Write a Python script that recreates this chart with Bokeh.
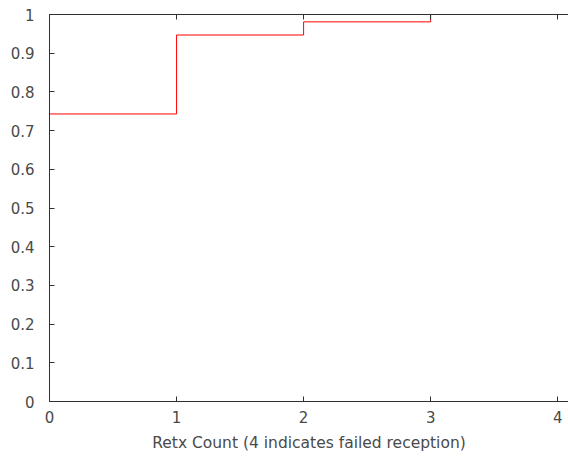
from bokeh.plotting import figure
from bokeh.models import Range1d, FixedTicker, LinearAxis
from bokeh.embed import file_html
from bokeh.resources import INLINE

# CDF of retransmission counts
retx_count = [0, 1, 2, 3]
cdf_value = [0.743, 0.947, 0.981, 1.0]

x_ticks = [0, 1, 2, 3, 4]
y_ticks = [0, 0.1, 0.2, 0.3, 0.4, 0.5, 0.6, 0.7, 0.8, 0.9, 1]
y_tick_labels = ["0", "0.1", "0.2", "0.3", "0.4", "0.5", "0.6", "0.7", "0.8", "0.9", "1"]
x_label = "Retx Count (4 indicates failed reception)"

FONT = "DejaVu Sans"
TEXT_COLOR = "#4a4a4a"
AXIS_COLOR = "#303030"

p = figure(width=568, height=462, output_backend="svg", toolbar_location=None,
           x_range=Range1d(0, 4.085), y_range=Range1d(0, 1),
           min_border_left=49, min_border_right=0, min_border_top=14,
           min_border_bottom=61, x_axis_location="below")
p.background_fill_color = "white"
p.border_fill_color = "white"
p.outline_line_color = None
p.xgrid.visible = False
p.ygrid.visible = False

p.step(retx_count, cdf_value, mode="after", line_color="#ff0000", line_width=1)


def style_axis(ax, show_labels=True):
    ax.axis_line_color = AXIS_COLOR
    ax.axis_line_width = 1
    ax.major_tick_line_color = AXIS_COLOR
    ax.major_tick_in = 5
    ax.major_tick_out = 0
    ax.minor_tick_line_color = None
    ax.major_label_text_font = FONT
    ax.major_label_text_font_size = "15px"
    ax.major_label_text_color = TEXT_COLOR
    if not show_labels:
        ax.major_label_text_font_size = "0px"
        ax.major_label_text_color = None


xa = p.xaxis[0]
xa.ticker = FixedTicker(ticks=x_ticks)
style_axis(xa)
xa.major_label_standoff = 9
xa.axis_label = x_label
xa.axis_label_text_font = FONT
xa.axis_label_text_font_size = "15.5px"
xa.axis_label_text_font_style = "normal"
xa.axis_label_text_color = TEXT_COLOR
xa.axis_label_standoff = 8

ya = p.yaxis[0]
ya.ticker = FixedTicker(ticks=y_ticks)
ya.major_label_overrides = {t: s for t, s in zip(y_ticks, y_tick_labels)}
style_axis(ya)
ya.major_label_standoff = 15

top = LinearAxis(ticker=FixedTicker(ticks=x_ticks))
style_axis(top, show_labels=False)
top.major_label_standoff = 0
p.add_layout(top, "above")

open("out.html", "w").write(file_html(p, INLINE))
